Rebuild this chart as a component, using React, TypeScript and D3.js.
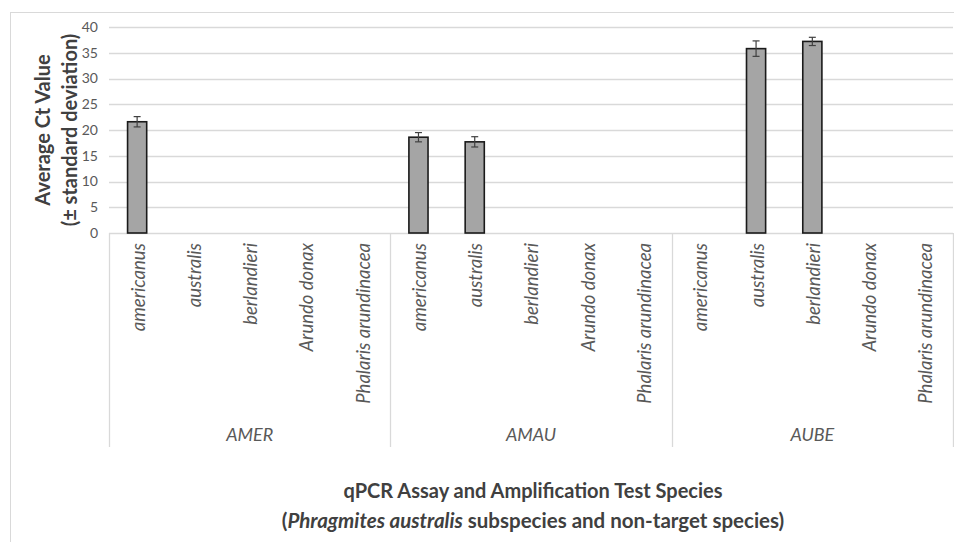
import { useEffect, useRef } from "react";
import * as d3 from "d3";

// chart data
const assays = ["AMER", "AMAU", "AUBE"];
const species = ["americanus", "australis", "berlandieri", "Arundo donax", "Phalaris arundinacea"];
const ctMeans: (number | null)[][] = [
  [21.6, null, null, null, null],
  [18.6, 17.7, null, null, null],
  [null, 35.8, 37.2, null, null],
];
const ctSd: (number | null)[][] = [
  [1.0, null, null, null, null],
  [0.9, 1.0, null, null, null],
  [null, 1.5, 0.8, null, null],
];
const yTicks = [0, 5, 10, 15, 20, 25, 30, 35, 40];

const FONT = "Lato, 'Open Sans', sans-serif";
const GREY = "#595959";

const App = () => {
  const svgRef = useRef<SVGSVGElement>(null);

  useEffect(() => {
    const width = 954;
    const height = 542;
    const left = 109;
    const right = 953;
    const top = 27;
    const bottom = 233;
    const axisBoxBottom = 447;

    const svg = d3.select(svgRef.current);
    svg.selectAll("*").remove();
    svg.attr("width", width).attr("height", height);

    // outer chart frame
    svg
      .append("rect")
      .attr("x", 10.5)
      .attr("y", 12.5)
      .attr("width", 960)
      .attr("height", 540)
      .attr("fill", "white")
      .attr("stroke", "#d9d9d9");

    const keys = assays.flatMap((a) => species.map((s) => `${a}|${s}`));
    const rows = assays.flatMap((a, i) =>
      species.map((s, j) => ({ key: `${a}|${s}`, assay: a, sp: s, mean: ctMeans[i][j], sd: ctSd[i][j] }))
    );

    const x = d3.scaleBand().domain(keys).range([left, right]).paddingInner(0.66).paddingOuter(0.33);
    const xGroup = d3.scaleBand().domain(assays).range([left, right]);
    const y = d3.scaleLinear().domain([0, 40]).range([bottom, top]);

    // gridlines
    svg
      .append("g")
      .selectAll("line")
      .data(yTicks.filter((t) => t > 0))
      .join("line")
      .attr("x1", left)
      .attr("x2", right)
      .attr("y1", (d) => Math.round(y(d)) + 0.5)
      .attr("y2", (d) => Math.round(y(d)) + 0.5)
      .attr("stroke", "#d9d9d9")
      .attr("stroke-width", 1.3);

    // y tick labels
    svg
      .append("g")
      .selectAll("text")
      .data(yTicks)
      .join("text")
      .attr("x", 98)
      .attr("y", (d) => y(d))
      .attr("dy", "0.35em")
      .attr("text-anchor", "end")
      .style("font-family", FONT)
      .style("font-size", "14px")
      .style("fill", GREY)
      .text((d) => d);

    // category axis box
    const axisG = svg.append("g").attr("stroke", "#d9d9d9").attr("stroke-width", 1.3);
    axisG
      .append("line")
      .attr("x1", left)
      .attr("x2", right)
      .attr("y1", bottom + 0.5)
      .attr("y2", bottom + 0.5);
    const seps = [...assays.map((a) => xGroup(a) as number), right];
    axisG
      .selectAll("line.sep")
      .data(seps)
      .join("line")
      .attr("class", "sep")
      .attr("x1", (d) => Math.round(d) + 0.5)
      .attr("x2", (d) => Math.round(d) + 0.5)
      .attr("y1", bottom)
      .attr("y2", axisBoxBottom);

    // bars
    const bars = rows.filter((r) => r.mean !== null);
    svg
      .append("g")
      .selectAll("rect")
      .data(bars)
      .join("rect")
      .attr("x", (d) => x(d.key) as number)
      .attr("y", (d) => y(d.mean as number))
      .attr("width", x.bandwidth())
      .attr("height", (d) => bottom - y(d.mean as number))
      .attr("fill", "#a5a5a5")
      .attr("stroke", "#1a1a1a")
      .attr("stroke-width", 1.6);

    // error bars
    const err = svg.append("g").attr("stroke", "#404040").attr("stroke-width", 1.2);
    bars.forEach((d) => {
      const cx = (x(d.key) as number) + x.bandwidth() / 2;
      const hi = y((d.mean as number) + (d.sd as number));
      const lo = y((d.mean as number) - (d.sd as number));
      err.append("line").attr("x1", cx).attr("x2", cx).attr("y1", hi).attr("y2", lo);
      err.append("line").attr("x1", cx - 3.5).attr("x2", cx + 3.5).attr("y1", hi).attr("y2", hi);
      err.append("line").attr("x1", cx - 3.5).attr("x2", cx + 3.5).attr("y1", lo).attr("y2", lo);
    });

    // species labels (rotated)
    svg
      .append("g")
      .selectAll("text")
      .data(rows)
      .join("text")
      .attr("transform", (d) => `translate(${(x(d.key) as number) + x.bandwidth() / 2 + 1},${bottom + 10}) rotate(-90)`)
      .attr("dy", "0.35em")
      .attr("text-anchor", "end")
      .style("font-family", FONT)
      .style("font-style", "italic")
      .style("font-size", "18.5px")
      .style("fill", GREY)
      .text((d) => d.sp);

    // assay labels
    svg
      .append("g")
      .selectAll("text")
      .data(assays)
      .join("text")
      .attr("x", (d) => (xGroup(d) as number) + xGroup.bandwidth() / 2)
      .attr("y", 441)
      .attr("text-anchor", "middle")
      .style("font-family", FONT)
      .style("font-style", "italic")
      .style("font-size", "18px")
      .style("fill", GREY)
      .text((d) => d);

    // y axis title
    const yTitle = svg
      .append("text")
      .attr("transform", `translate(0,${(top + bottom) / 2}) rotate(-90)`)
      .attr("text-anchor", "middle")
      .style("font-family", FONT)
      .style("font-weight", "bold")
      .style("font-size", "20px")
      .style("fill", "#404040");
    yTitle.append("tspan").attr("x", 0).attr("y", 50).text("Average Ct Value");
    yTitle.append("tspan").attr("x", 0).attr("y", 77).text("(± standard deviation)");

    // x axis title
    const cxTitle = 533;
    svg
      .append("text")
      .attr("x", cxTitle)
      .attr("y", 498)
      .attr("text-anchor", "middle")
      .style("font-family", FONT)
      .style("font-weight", "bold")
      .style("font-size", "20px")
      .style("fill", "#404040")
      .text("qPCR Assay and Amplification Test Species");
    const sub = svg
      .append("text")
      .attr("x", cxTitle)
      .attr("y", 528)
      .attr("text-anchor", "middle")
      .style("font-family", FONT)
      .style("font-weight", "bold")
      .style("font-size", "20.5px")
      .style("fill", "#404040");
    sub.append("tspan").text("(");
    sub.append("tspan").style("font-style", "italic").text("Phragmites australis");
    sub.append("tspan").text(" subspecies and non-target species)");
  }, []);

  return (
    <svg
      ref={svgRef}
      style={{ position: "absolute", left: 0, top: 0, display: "block" }}
    />
  );
};

export default App;
